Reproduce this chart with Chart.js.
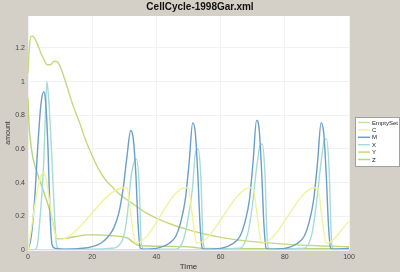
<!DOCTYPE html>
<html>
<head>
<meta charset="utf-8">
<script src="https://cdn.jsdelivr.net/npm/chart.js@4/dist/chart.umd.min.js"></script>
<style>
  html, body { margin: 0; padding: 0; background: #d4d0c8; }
  #wrap { position: relative; width: 400px; height: 272px; }
</style>
</head>
<body>
<div id="wrap"><canvas id="chart" width="400" height="272"></canvas></div>
<script>
const TITLE = "CellCycle-1998Gar.xml";
const X_LABEL = "Time";
const Y_LABEL = "amount";

const SERIES_NAMES = ["EmptySet", "C", "M", "X", "Y", "Z"];
const SERIES_COLORS = ["#c8e496", "#f2f29a", "#6a9ecb", "#a6dcd6", "#c6d880", "#b8d67a"];

const EMPTYSET_T = [0, 100];
const EMPTYSET_V = [0, 0];

const C_T = [0, 1, 2, 3, 4, 5, 6, 7, 8, 9.5, 30, 30.8, 31.8, 32.8, 33.5, 49.1, 49.9, 50.9, 51.9, 52.6, 69.3, 70.1, 71.1, 72.1, 72.8, 89.4, 90.2, 91.2, 92.2, 92.9, 100];
const C_V = [0, 0.12, 0.25, 0.36, 0.44, 0.46, 0.38, 0.25, 0.13, 0.06, 0.37, 0.37, 0.25, 0.1, 0.04, 0.37, 0.37, 0.25, 0.1, 0.04, 0.37, 0.37, 0.25, 0.1, 0.04, 0.37, 0.37, 0.25, 0.1, 0.04, 0.17];

const M_T = [0, 1, 2, 3, 4, 4.9, 5.5, 6.2, 6.9, 7.5, 8.5, 12, 17, 20, 22.7, 25, 26.7, 28.3, 29.6, 30.8, 32, 32.8, 33.6, 34.3, 35, 36, 40, 44, 46, 47.5, 49, 50.2, 51.3, 52.1, 52.9, 53.6, 54.3, 55, 60, 64, 66, 67.5, 69, 70.1, 71.2, 72, 72.8, 73.5, 74.2, 75, 80, 84, 86, 87.5, 89, 90.2, 91.3, 92.1, 92.9, 93.6, 94.3, 95, 100];
const M_V = [0, 0.08, 0.28, 0.6, 0.86, 0.94, 0.88, 0.62, 0.2, 0.03, 0.01, 0.005, 0.01, 0.02, 0.04, 0.08, 0.13, 0.22, 0.36, 0.55, 0.71, 0.66, 0.45, 0.15, 0.01, 0.005, 0.01, 0.04, 0.08, 0.16, 0.3, 0.52, 0.755, 0.7, 0.45, 0.15, 0.01, 0.005, 0.01, 0.04, 0.08, 0.16, 0.3, 0.52, 0.77, 0.72, 0.46, 0.15, 0.01, 0.005, 0.01, 0.04, 0.08, 0.16, 0.3, 0.52, 0.755, 0.7, 0.45, 0.15, 0.01, 0.005, 0.01];

const X_T = [0, 2, 2.8, 3.8, 4.9, 5.5, 5.9, 6.5, 7.5, 8.5, 9, 10, 20, 26, 28.5, 29.8, 31, 32, 33, 33.8, 34.6, 35.3, 36, 46, 48.4, 49.8, 51.2, 52.2, 53, 53.8, 54.6, 55.3, 56, 66, 68.5, 69.8, 71.3, 72.3, 73, 73.8, 74.6, 75.3, 76, 86, 88.5, 89.8, 91.3, 92.3, 93, 93.8, 94.6, 95.3, 96, 100];
const X_V = [0, 0, 0.02, 0.2, 0.52, 0.85, 1.0, 0.88, 0.52, 0.12, 0.02, 0.005, 0.005, 0.01, 0.03, 0.08, 0.22, 0.42, 0.52, 0.54, 0.4, 0.04, 0.005, 0.005, 0.06, 0.18, 0.36, 0.58, 0.6, 0.45, 0.04, 0.005, 0.005, 0.01, 0.1, 0.25, 0.5, 0.62, 0.63, 0.46, 0.04, 0.005, 0.005, 0.01, 0.1, 0.27, 0.52, 0.65, 0.66, 0.48, 0.04, 0.005, 0.005, 0.005];

const Y_T = [0, 0.5, 1, 1.5, 2, 3, 4, 5, 6, 7, 8, 9, 10, 11, 12, 14, 16, 18, 20, 22, 24, 26, 28, 30, 33, 36, 40, 45, 50, 55, 60, 65, 70, 80, 90, 100];
const Y_V = [1.05, 1.22, 1.27, 1.27, 1.26, 1.22, 1.17, 1.13, 1.1, 1.1, 1.12, 1.12, 1.09, 1.04, 0.98, 0.86, 0.76, 0.65, 0.56, 0.48, 0.42, 0.38, 0.34, 0.31, 0.27, 0.23, 0.19, 0.15, 0.12, 0.095, 0.075, 0.06, 0.05, 0.035, 0.025, 0.02];

const Z_T = [0, 0.3, 0.7, 1.5, 3, 5, 7, 8, 8.7, 9.5, 12, 15, 18.5, 22, 26, 29, 31, 32.5, 34, 36, 42, 48, 52, 54, 60, 70, 80, 90, 100];
const Z_V = [0.9, 0.75, 0.66, 0.55, 0.45, 0.34, 0.22, 0.14, 0.08, 0.065, 0.07, 0.08, 0.09, 0.09, 0.085, 0.08, 0.07, 0.05, 0.03, 0.025, 0.022, 0.02, 0.015, 0.01, 0.008, 0.008, 0.008, 0.008, 0.008];

const SERIES_T = [EMPTYSET_T, C_T, M_T, X_T, Y_T, Z_T];
const SERIES_V = [EMPTYSET_V, C_V, M_V, X_V, Y_V, Z_V];

const FONT = "'Liberation Sans', Arial, sans-serif";

document.addEventListener("DOMContentLoaded", () => mount());

function mount() {
  const ctx = document.getElementById("chart").getContext("2d");
  createChart(ctx, createDatasets());
}

function createDatasets() {
  return SERIES_NAMES.map((name, i) => ({
    label: name,
    data: SERIES_T[i].map((t, j) => ({ x: t, y: SERIES_V[i][j] })),
    borderColor: SERIES_COLORS[i],
    backgroundColor: SERIES_COLORS[i],
    borderWidth: 1.4,
    pointRadius: 0,
    fill: false,
    cubicInterpolationMode: "monotone",
  }));
}

// title centred on the whole window
const topTitle = {
  id: "topTitle",
  afterDraw(chart) {
    const c = chart.ctx;
    c.save();
    c.font = "bold 10px " + FONT;
    c.fillStyle = "#111111";
    c.textAlign = "center";
    c.textBaseline = "middle";
    c.fillText(TITLE, 200, 7.5);
    c.restore();
  },
};

// legend box on the right, drawn on the canvas
const boxLegend = {
  id: "boxLegend",
  afterDraw(chart) {
    const c = chart.ctx;
    const x0 = 355.5, y0 = 117.5, w = 44, h = 49;
    c.save();
    c.fillStyle = "#ffffff";
    c.fillRect(x0, y0, w, h);
    c.strokeStyle = "#a0a0a0";
    c.lineWidth = 1;
    c.strokeRect(x0, y0, w, h);
    c.font = "6px " + FONT;
    c.textBaseline = "middle";
    chart.data.datasets.forEach((ds, i) => {
      const y = 122.5 + i * 7.4;
      c.strokeStyle = ds.borderColor;
      c.lineWidth = 1.5;
      c.beginPath();
      c.moveTo(358, y);
      c.lineTo(370, y);
      c.stroke();
      c.fillStyle = "#222222";
      c.fillText(ds.label, 372, y + 0.5);
    });
    c.restore();
  },
};

// white plot area
const plotBg = {
  id: "plotBg",
  beforeDraw(chart) {
    const a = chart.chartArea;
    const c = chart.ctx;
    c.save();
    c.fillStyle = "#ffffff";
    c.fillRect(a.left, a.top, a.right - a.left, a.bottom - a.top);
    c.restore();
  },
};

function createChart(ctx, datasets) {
  return new Chart(ctx, {
    type: "line",
    data: { datasets: datasets },
    plugins: [plotBg, boxLegend, topTitle],
    options: {
      responsive: false,
      animation: false,
      layout: { padding: { left: 0, right: 51, top: 16, bottom: 0 } },
      scales: {
        x: {
          type: "linear",
          min: 0,
          max: 100,
          border: { display: false },
          grid: { color: "#f2f2f2", drawTicks: false },
          ticks: { stepSize: 20, padding: 3, color: "#444444", font: { family: FONT, size: 7 } },
          title: { display: true, text: X_LABEL, color: "#333333", padding: 0, font: { family: FONT, size: 8 } },
          afterFit: (scale) => { scale.height = 22; },
        },
        y: {
          min: 0,
          max: 1.39,
          border: { display: false },
          grid: { color: "#f2f2f2", drawTicks: false },
          ticks: {
            stepSize: 0.2,
            padding: 3,
            color: "#444444",
            font: { family: FONT, size: 7 },
            callback: (v) => String(Number(v.toFixed(1))),
          },
          afterBuildTicks: (scale) => {
            scale.ticks = scale.ticks.filter((t) => t.value <= 1.21);
          },
          title: { display: true, text: Y_LABEL, color: "#333333", padding: { top: 4, bottom: 0 }, font: { family: FONT, size: 7 } },
          afterFit: (scale) => { scale.width = 28; },
        },
      },
      plugins: {
        legend: { display: false },
        tooltip: { enabled: false },
        title: { display: false },
      },
    },
  });
}
</script>
</body>
</html>
